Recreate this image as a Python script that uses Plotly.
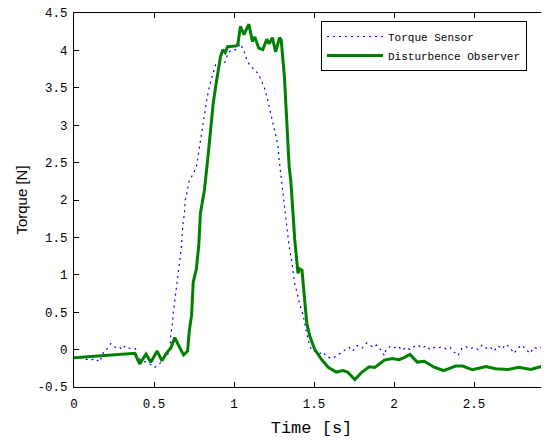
import plotly.graph_objects as go

# Disturbance observer estimate (thick green)
obs_t = [0, 0.38, 0.41, 0.45, 0.48, 0.52, 0.55, 0.58, 0.605, 0.63, 0.655, 0.685, 0.71,
         0.72, 0.735, 0.745, 0.765, 0.78, 0.79, 0.8, 0.815, 0.835, 0.85, 0.87, 0.885,
         0.9, 0.915, 0.93, 0.945, 0.96, 0.985, 1.015, 1.025, 1.04, 1.062, 1.093, 1.115,
         1.13, 1.155, 1.18, 1.205, 1.22, 1.24, 1.26, 1.285, 1.295, 1.315, 1.33, 1.345,
         1.355, 1.37, 1.38, 1.4, 1.41, 1.425, 1.44, 1.455, 1.475, 1.505, 1.55, 1.59,
         1.64, 1.68, 1.71, 1.755, 1.8, 1.845, 1.88, 1.94, 1.99, 2.03, 2.06, 2.1, 2.145,
         2.19, 2.25, 2.31, 2.385, 2.43, 2.49, 2.575, 2.635, 2.71, 2.78, 2.855, 2.93,
         2.97, 3.0]
obs_tq = [-0.11, -0.05, -0.19, -0.06, -0.17, -0.02, -0.15, -0.04, 0.02, 0.16, 0.05,
          -0.07, -0.02, 0.24, 0.46, 0.9, 1.08, 1.4, 1.82, 1.95, 2.13, 2.53, 2.89, 3.29,
          3.51, 3.74, 3.91, 4.01, 3.97, 4.05, 4.05, 4.06, 4.09, 4.32, 4.21, 4.35, 4.12,
          4.18, 4.03, 4.01, 4.15, 4.09, 4.17, 3.98, 4.17, 4.14, 3.65, 2.98, 2.44, 2.26,
          1.82, 1.46, 1.02, 1.08, 1.06, 0.70, 0.35, 0.17, 0.0, -0.14, -0.24, -0.30,
          -0.28, -0.30, -0.40, -0.30, -0.23, -0.24, -0.14, -0.12, -0.135, -0.11, -0.065,
          -0.167, -0.155, -0.235, -0.28, -0.22, -0.22, -0.27, -0.225, -0.256, -0.266,
          -0.235, -0.266, -0.22, -0.28, -0.26]

# Torque sensor reading (blue dotted)
sens_t = [0, 0.05, 0.1, 0.13, 0.16, 0.185, 0.2, 0.23, 0.26, 0.28, 0.3, 0.32, 0.345,
          0.36, 0.385, 0.395, 0.42, 0.45, 0.48, 0.505, 0.535, 0.565, 0.59, 0.6, 0.605,
          0.615, 0.62, 0.635, 0.65, 0.66, 0.67, 0.675, 0.68, 0.69, 0.695, 0.705, 0.72,
          0.74, 0.765, 0.775, 0.785, 0.795, 0.805, 0.815, 0.83, 0.845, 0.855, 0.87,
          0.885, 0.91, 0.94, 0.95, 0.96, 0.98, 1.015, 1.04, 1.07, 1.08, 1.1, 1.125,
          1.15, 1.175, 1.195, 1.21, 1.225, 1.24, 1.25, 1.265, 1.275, 1.28, 1.29, 1.3,
          1.31, 1.325, 1.335, 1.345, 1.36, 1.37, 1.38, 1.395, 1.41, 1.43, 1.44, 1.455,
          1.47, 1.485, 1.505, 1.535, 1.55, 1.585, 1.615, 1.655, 1.69, 1.72, 1.74, 1.77,
          1.8, 1.83, 1.87, 1.89, 1.92, 1.94, 1.95, 1.975, 2.0, 2.025, 2.05, 2.075, 2.1,
          2.125, 2.15, 2.175, 2.2, 2.225, 2.25, 2.275, 2.3, 2.325, 2.35, 2.375, 2.4,
          2.425, 2.45, 2.475, 2.5, 2.525, 2.55, 2.575, 2.6, 2.625, 2.65, 2.675, 2.7,
          2.725, 2.75, 2.775, 2.8, 2.825, 2.85, 2.875, 2.9, 2.925, 2.95, 2.975, 3.0]
sens_tq = [-0.1, -0.11, -0.145, -0.12, -0.165, -0.03, -0.01, 0.08, 0.03, 0.04, 0.0,
           0.05, 0.02, 0.02, 0.01, -0.11, -0.14, -0.17, -0.2, -0.235, -0.19, -0.1,
           -0.05, 0.03, 0.21, 0.34, 0.48, 0.73, 0.95, 1.12, 1.35, 1.5, 1.66, 1.82, 2.0,
           2.09, 2.26, 2.33, 2.44, 2.58, 2.73, 2.82, 2.98, 3.16, 3.34, 3.51, 3.6, 3.7,
           3.81, 3.85, 3.83, 3.87, 3.96, 4.0, 4.01, 4.09, 3.95, 3.87, 3.8, 3.75, 3.69,
           3.58, 3.47, 3.34, 3.2, 3.07, 2.98, 2.85, 2.73, 2.58, 2.4, 2.17, 2.0, 1.75,
           1.55, 1.37, 1.19, 1.02, 0.88, 0.75, 0.61, 0.48, 0.35, 0.21, 0.08, -0.01,
           -0.02, -0.056, -0.03, -0.1, -0.12, -0.056, -0.01, 0.03, -0.02, 0.056, 0.02,
           0.09, 0.03, 0.06, -0.01, -0.08, 0.0, 0.04, 0.02, 0.05, -0.01, 0.03, 0.0, 0.04,
           0.06, 0.02, 0.05, 0.0, 0.03, 0.02, 0.04, 0.01, 0.03, -0.03, -0.08, 0.02, 0.04,
           0.01, 0.03, 0.0, 0.06, 0.02, 0.04, -0.02, 0.05, 0.01, 0.07, 0.03, -0.05, 0.02,
           0.06, 0.0, -0.05, 0.03, 0.01, 0.04, 0.02, 0.0, 0.03]

x_ticks = [0, 0.5, 1, 1.5, 2, 2.5]
y_ticks = [-0.5, 0, 0.5, 1, 1.5, 2, 2.5, 3, 3.5, 4, 4.5]
y_labels = ['-0.5', '0', '0.5', '1', '1.5', '2', '2.5', '3', '3.5', '4', '4.5']

mono = 'Liberation Mono'

fig = go.Figure()
fig.add_trace(go.Scatter(x=sens_t, y=sens_tq, mode='lines', name='Torque Sensor',
                         line=dict(color='#0000ff', width=1.2, dash='2px,4px')))
fig.add_trace(go.Scatter(x=obs_t, y=obs_tq, mode='lines', name='Disturbence Observer',
                         line=dict(color='#008000', width=3)))
# invisible trace only to carry the right-hand tick marks
fig.add_trace(go.Scatter(x=[0], y=[0], yaxis='y2', mode='markers', showlegend=False,
                         marker=dict(opacity=0), hoverinfo='skip'))

# the page body adds an 8px margin, so the figure is 8px smaller than the window
fig.update_layout(
    width=541, height=433,
    margin=dict(l=66, r=0, t=5, b=54),
    paper_bgcolor='white', plot_bgcolor='white',
    font=dict(family=mono, size=12.5, color='black'),
    xaxis=dict(range=[0, 2.96875], tickvals=x_ticks, ticktext=[str(v) for v in x_ticks],
               ticks='inside', ticklen=5, tickcolor='black', showline=True,
               linecolor='black', linewidth=1, mirror='ticks', showgrid=False,
               zeroline=False, automargin=False, ticklabelstandoff=5,
               ticklabeloverflow='allow',
               title=dict(text='Time [s]', font=dict(family=mono, size=17), standoff=10)),
    yaxis=dict(range=[-0.5, 4.5], tickvals=y_ticks, ticktext=y_labels,
               ticks='inside', ticklen=5, tickcolor='black', showline=True,
               linecolor='black', linewidth=1, mirror=False, showgrid=False,
               zeroline=False, automargin=False, ticklabelstandoff=3,
               ticklabeloverflow='allow',
               title=dict(text='Torque [N]', font=dict(family='Liberation Sans', size=15),
                          standoff=6)),
    yaxis2=dict(range=[-0.5, 4.5], tickvals=y_ticks, overlaying='y', side='right',
                ticks='inside', ticklen=5, tickcolor='black', showticklabels=False,
                showline=False, showgrid=False, zeroline=False, automargin=False),
    legend=dict(x=0.52, y=0.9786, xanchor='left', yanchor='top',
                bgcolor='white', bordercolor='black', borderwidth=1, itemwidth=56,
                font=dict(family=mono, size=11), tracegroupgap=0),
)

fig.write_html("out.html")
